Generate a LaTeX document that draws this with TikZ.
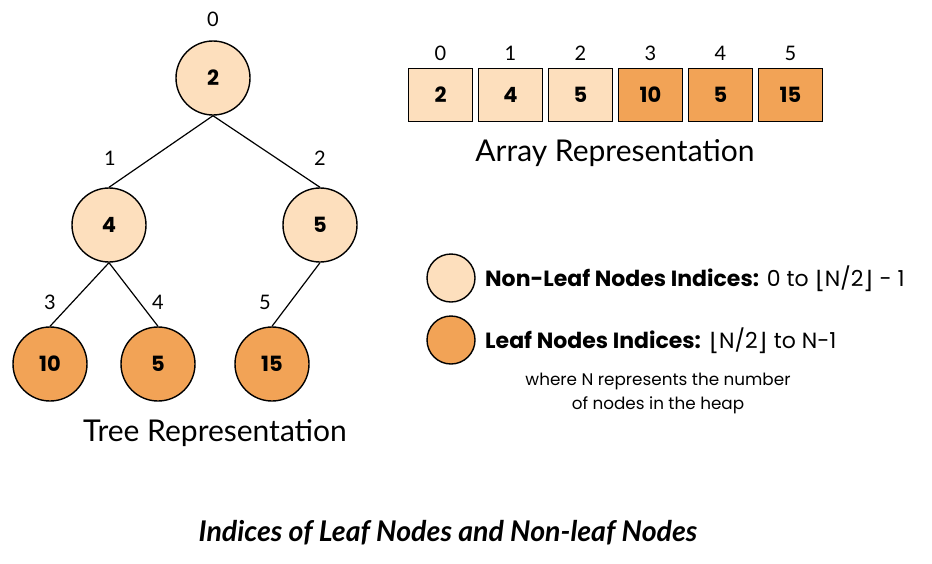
\documentclass[tikz,border=0pt]{standalone}
\usepackage{fontspec}
\setmainfont{Lato}
\newfontfamily\popfont{Poppins}
\newfontfamily\symfont{DejaVu Sans}
\definecolor{lightpeach}{HTML}{FDDFBD}
\definecolor{darkorange}{HTML}{F2A356}
\newcommand{\lfl}{{\symfont\fontsize{24}{26}\selectfont\kern1pt\raisebox{-2pt}{⌊}}}
\newcommand{\rfl}{{\symfont\fontsize{24}{26}\selectfont\raisebox{-2pt}{⌋}\kern1pt}}
\begin{document}
\begin{tikzpicture}[x=1pt,y=-1pt,
  treenode/.style={circle,draw=black,line width=1.4pt,minimum size=74pt,inner sep=0pt,font=\popfont\bfseries\fontsize{21}{23}\selectfont},
  inner/.style={treenode,fill=lightpeach},
  leaf/.style={treenode,fill=darkorange},
  cell/.style={rectangle,draw=black,line width=1.4pt,minimum width=64pt,minimum height=53pt,inner sep=0pt,font=\popfont\bfseries\fontsize{21}{23}\selectfont},
  innercell/.style={cell,fill=lightpeach},
  leafcell/.style={cell,fill=darkorange},
  idx/.style={font=\fontsize{20}{22}\selectfont,inner sep=0pt},
  edge/.style={line width=1.2pt},
  caption/.style={font=\fontsize{30}{33}\selectfont,inner sep=0pt},
  legdot/.style={circle,draw=black,line width=1.4pt,minimum size=48pt,inner sep=0pt},
  legtext/.style={anchor=west,inner sep=0pt,font=\popfont\fontsize{22}{25}\selectfont},
  note/.style={inner sep=0pt,font=\popfont\fontsize{16.8}{24}\selectfont,align=center}
]
\useasboundingbox (0,0) rectangle (932,563);
% tree
\node[inner] (n0) at (213,78) {2};
\node[inner] (n1) at (109,225) {4};
\node[inner] (n2) at (320,225) {5};
\node[leaf] (n3) at (50,364) {10};
\node[leaf] (n4) at (158,364) {5};
\node[leaf] (n5) at (272,364) {15};
\draw[edge] (n0.south) -- (n1.north);
\draw[edge] (n0.south) -- (n2.north);
\draw[edge] (n1.south) -- (n3.north);
\draw[edge] (n1.south) -- (n4.north);
\draw[edge] (n2.south) -- (n5.north);
\node[idx] (i0) at (213,19) {0};
\node[idx] (i1) at (110,158) {1};
\node[idx] (i2) at (320,158) {2};
\node[idx] (i3) at (50,302) {3};
\node[idx] (i4) at (158,302) {4};
\node[idx] (i5) at (265,302) {5};
\node[caption] (treecap) at (215,433) {Tree Representation};
% array
\node[innercell] (a0) at (440.5,95) {2};
\node[innercell] (a1) at (510.5,95) {4};
\node[innercell] (a2) at (580.5,95) {5};
\node[leafcell] (a3) at (650.5,95) {10};
\node[leafcell] (a4) at (720.5,95) {5};
\node[leafcell] (a5) at (790.5,95) {15};
\foreach \i/\x in {0/440.5,1/510.5,2/580.5,3/650.5,4/720.5,5/790.5}
  \node[idx] (ai\i) at (\x,53) {\i};
\node[caption] (arrcap) at (615,153) {Array Representation};
% legend
\node[legdot,fill=lightpeach] (l1) at (451,278) {};
\node[legdot,fill=darkorange] (l2) at (451,340) {};
\node[legtext] (t1) at (485,279) {\textbf{Non-Leaf Nodes Indices:} 0 to \lfl N/2\rfl{} - 1};
\node[legtext] (t2) at (485,341) {\textbf{Leaf Nodes Indices:} \lfl N/2\rfl{} to N-1};
\node[note] (nt) at (658,393) {where N represents the number\\of nodes in the heap};
% title
\node[inner sep=0pt,font=\bfseries\itshape\fontsize{28.5}{32}\selectfont] (title) at (448,533) {Indices of Leaf Nodes and Non-leaf Nodes};
\end{tikzpicture}
\end{document}
